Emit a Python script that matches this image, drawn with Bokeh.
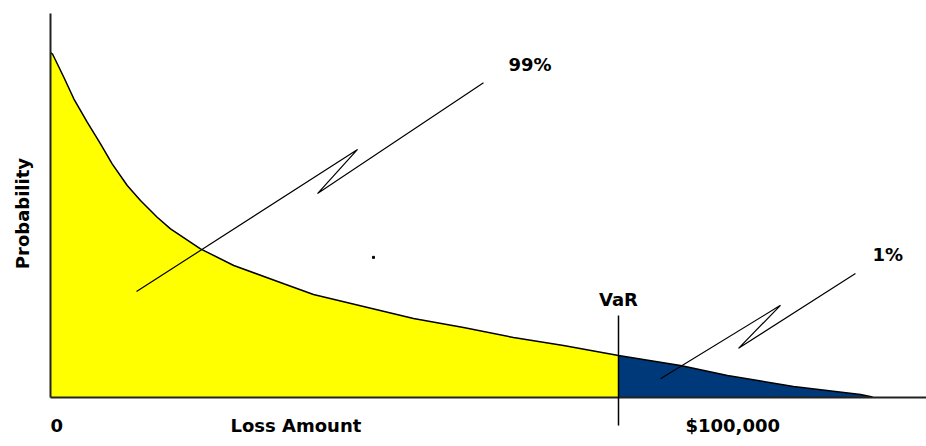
from bokeh.plotting import figure
from bokeh.models import Range1d
from bokeh.core.properties import value
from bokeh.embed import file_html
from bokeh.resources import INLINE
import math

# ---- data (loss amount on x, probability density on y, arbitrary units) ----
loss = [0.0, 0.23, 1.52, 2.66, 4.19, 5.71, 7.04, 8.76, 10.27, 12.18, 13.70,
        17.12, 20.92, 26.63, 30.02, 35.73, 41.44, 47.15, 52.85, 58.56,
        64.84, 71.92, 77.28, 84.82, 92.47, 93.84]
prob = [89.84, 89.45, 83.41, 77.79, 71.69, 66.07, 60.86, 55.21, 51.30, 46.95, 43.93,
        38.72, 34.38, 29.61, 26.82, 23.70, 20.57, 18.23, 15.63, 13.54,
        10.94, 8.33, 5.73, 2.86, 0.78, 0.13]
var_loss = 64.84

x_tick_labels = ["0", "Loss Amount", "$100,000"]
y_axis_title = "Probability"
label_99 = "99%"
label_1 = "1%"
label_var = "VaR"

# annotation geometry (bolt-shaped pointers)
bolt99_x = [9.82, 35.05, 30.48, 49.43]
bolt99_y = [27.6, 64.6, 53.1, 82.0]
bolt1_x = [69.63, 83.33, 78.54, 91.89]
bolt1_y = [4.9, 24.0, 12.8, 32.3]

# ---- figure ----
W, H = 926, 446
p = figure(width=W, height=H, output_backend="svg", toolbar_location=None,
           x_axis_location=None, y_axis_location=None,
           x_range=Range1d(-5.708, 100.0), y_range=Range1d(-12.76, 103.39),
           min_border=0, outline_line_color=None)
p.grid.visible = False
p.background_fill_color = "white"
p.border_fill_color = "white"

i_var = loss.index(var_loss)
FONT = value("DejaVu Sans")
FS = "18px"

# filled areas
p.varea(x=loss[:i_var + 1], y1=[0] * (i_var + 1), y2=prob[:i_var + 1], fill_color="#FFFF00")
p.varea(x=loss[i_var:], y1=[0] * (len(loss) - i_var), y2=prob[i_var:], fill_color="#00397A")

# density curve
p.line(loss, prob, line_color="black", line_width=1.5)

# axes drawn as lines
xmax = 100.0
ymax = 100.0
p.line([0, xmax], [0, 0], line_color="#222222", line_width=2)
p.line([0, 0], [0, ymax], line_color="#222222", line_width=2)

# VaR marker
p.line([var_loss, var_loss], [-7.3, 21.35], line_color="black", line_width=1.5)

# bolts
p.line(bolt99_x, bolt99_y, line_color="black", line_width=1.2)
p.line(bolt1_x, bolt1_y, line_color="black", line_width=1.2)

# stray dot
p.scatter([36.87], [36.5], marker="square", size=2, color="black")

# texts
tick_pos = [0.0, 20.55, 72.49]
p.text(x=tick_pos, y=[-7.3] * 3, text=x_tick_labels, text_font=FONT,
       text_font_style="bold", text_font_size=FS, text_align="left",
       text_baseline="alphabetic", text_color="black")
p.text(x=[-3.14], y=[47.9], text=[y_axis_title], angle=math.pi / 2, text_font=FONT,
       text_font_style="bold", text_font_size=FS, text_align="center",
       text_baseline="middle", text_color="black")
p.text(x=[var_loss], y=[25.5], text=[label_var], text_font=FONT,
       text_font_style="bold", text_font_size=FS, text_align="center",
       text_baseline="alphabetic", text_color="black")
p.text(x=[52.28, 93.84], y=[86.7, 37.2], text=[label_99, label_1], text_font=FONT,
       text_font_style="bold", text_font_size=FS, text_align="left",
       text_baseline="alphabetic", text_color="black")

open("out.html", "w").write(file_html(p, INLINE))
